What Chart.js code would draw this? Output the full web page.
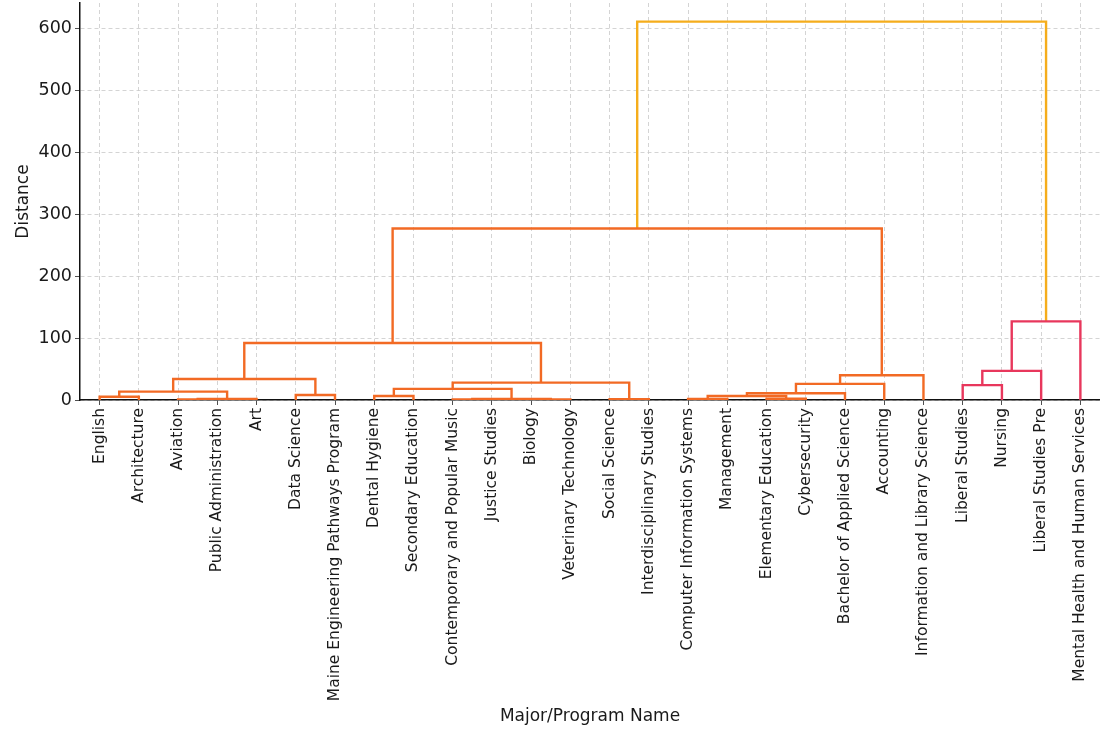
<!DOCTYPE html>
<html>
<head>
<meta charset="utf-8">
<script src="https://cdn.jsdelivr.net/npm/chart.js@4.4.1/dist/chart.umd.min.js"></script>
<style>
  html, body { margin: 0; padding: 0; background: #fff; }
  #wrap { width: 1100px; height: 729px; }
</style>
</head>
<body>
<div id="wrap"><canvas id="dendro" width="1100" height="729"></canvas></div>
<script>
// leaf order as drawn, left to right
const leaves = [
  'English', 'Architecture', 'Aviation', 'Public Administration', 'Art',
  'Data Science', 'Maine Engineering Pathways Program', 'Dental Hygiene',
  'Secondary Education', 'Contemporary and Popular Music', 'Justice Studies',
  'Biology', 'Veterinary Technology', 'Social Science', 'Interdisciplinary Studies',
  'Computer Information Systems', 'Management', 'Elementary Education',
  'Cybersecurity', 'Bachelor of Applied Science', 'Accounting',
  'Information and Library Science', 'Liberal Studies', 'Nursing',
  'Liberal Studies Pre', 'Mental Health and Human Services'
];

// linkage: node 26 + k joins linkA[k] and linkB[k] at linkDist[k]
const linkA    = [9,  11,  26,  2,   29,  0,   31,   5,  32, 7,   35, 13,  36, 34, 15,  17,  40,  42, 43, 44, 39,  22, 47, 48,  46];
const linkB    = [10, 12,  27,  3,   4,   1,   30,   6,  33, 8,   28, 14,  37, 38, 16,  18,  41,  19, 20, 21, 45,  23, 24, 25,  49];
const linkDist = [1,  1,   1.8, 0.8, 1.8, 5.3, 13.5, 8,  34, 6.5, 18, 1.2, 28, 92, 1.5, 2,   6.5, 11, 26, 40, 277, 24, 47, 127, 611];

const yTicks = [0, 100, 200, 300, 400, 500, 600];

const clusterColors = ['#f26a24', '#e8375c'];
const aboveColor = '#f5ad1c';
const colorThreshold = 0.7 * Math.max(...linkDist);

document.addEventListener('DOMContentLoaded', () => {
  const n = leaves.length;
  const nodeX = leaves.map((_, i) => 10 * i + 5);
  const nodeY = leaves.map(() => 0);
  const parent = [];

  linkA.forEach((a, k) => {
    const b = linkB[k];
    nodeX.push((nodeX[a] + nodeX[b]) / 2);
    nodeY.push(linkDist[k]);
    parent[a] = n + k;
    parent[b] = n + k;
  });

  // cluster roots = highest links still under the threshold, coloured left to right
  const roots = [];
  linkA.forEach((a, k) => {
    const id = n + k;
    const p = parent[id];
    if (linkDist[k] < colorThreshold && (p === undefined || nodeY[p] >= colorThreshold)) roots.push(id);
  });
  roots.sort((r1, r2) => nodeX[r1] - nodeX[r2]);
  const clusterOf = {};
  roots.forEach((r, i) => { clusterOf[r] = clusterColors[i % clusterColors.length]; });

  const linkColor = [];
  for (let k = linkA.length - 1; k >= 0; k--) {
    const id = n + k;
    if (linkDist[k] >= colorThreshold) {
      linkColor[k] = aboveColor;
      continue;
    }
    if (!clusterOf[id]) clusterOf[id] = clusterOf[parent[id]];
    linkColor[k] = clusterOf[id];
  }

  const datasets = linkA.map((a, k) => {
    const b = linkB[k];
    return {
      data: [
        { x: nodeX[a], y: nodeY[a] },
        { x: nodeX[a], y: linkDist[k] },
        { x: nodeX[b], y: linkDist[k] },
        { x: nodeX[b], y: nodeY[b] }
      ],
      borderColor: linkColor[k],
      borderWidth: 2.4,
      pointRadius: 0,
      fill: false,
      tension: 0
    };
  });

  const ctx = document.getElementById('dendro').getContext('2d');
  new Chart(ctx, {
    type: 'line',
    data: { datasets: datasets },
    options: {
      responsive: false,
      animation: false,
      layout: { padding: { top: 3, right: 0, left: 0, bottom: 0 } },
      plugins: { legend: { display: false }, tooltip: { enabled: false } },
      scales: {
        x: {
          type: 'linear',
          min: 0,
          max: 10 * n,
          afterBuildTicks: (scale) => {
            scale.ticks = leaves.map((_, i) => ({ value: 10 * i + 5 }));
          },
          afterFit: (scale) => { scale.height = 329; scale.paddingLeft = 0; scale.paddingRight = 0; },
          ticks: {
            autoSkip: false,
            minRotation: 90,
            maxRotation: 90,
            padding: 3,
            color: '#1a1a1a',
            font: { family: 'DejaVu Sans', size: 15.5 },
            callback: (value) => leaves[Math.round((value - 5) / 10)]
          },
          grid: { color: '#c9c9c9', lineWidth: 0.8, tickLength: 5, tickColor: '#222' },
          border: { display: true, color: '#111', width: 1.5, dash: [4, 3] },
          title: {
            display: true,
            text: 'Major/Program Name',
            color: '#1a1a1a',
            font: { family: 'DejaVu Sans', size: 17 },
            padding: { top: 4, bottom: 2 }
          }
        },
        y: {
          min: 0,
          max: 641,
          afterBuildTicks: (scale) => {
            scale.ticks = yTicks.map((v) => ({ value: v }));
          },
          afterFit: (scale) => { scale.width = 80; scale.paddingTop = 0; scale.paddingBottom = 0; },
          ticks: {
            padding: 3,
            color: '#1a1a1a',
            font: { family: 'DejaVu Sans', size: 17.5 }
          },
          grid: { color: '#c9c9c9', lineWidth: 0.8, tickLength: 5, tickColor: '#222' },
          border: { display: true, color: '#111', width: 1.5, dash: [4, 3] },
          title: {
            display: true,
            text: 'Distance',
            color: '#1a1a1a',
            font: { family: 'DejaVu Sans', size: 17 },
            padding: { top: 13, bottom: 0 }
          }
        }
      }
    }
  });
});
</script>
</body>
</html>
